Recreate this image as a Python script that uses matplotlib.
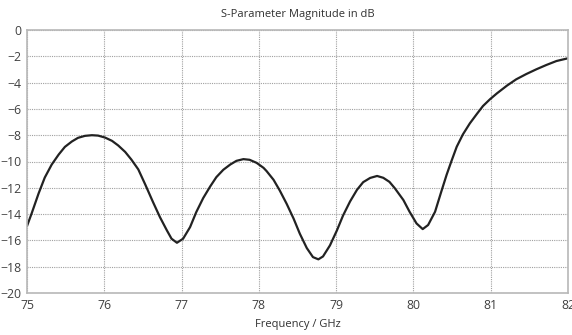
import matplotlib
matplotlib.use("Agg")
import matplotlib.pyplot as plt

# S-parameter values
freq = [75.0, 75.06, 75.15, 75.23, 75.32, 75.41, 75.49, 75.58, 75.66, 75.75,
        75.84, 75.92, 76.01, 76.10, 76.18, 76.27, 76.35, 76.44, 76.53, 76.63,
        76.72, 76.81, 76.87, 76.94, 77.02, 77.11, 77.19, 77.28, 77.37, 77.45,
        77.54, 77.63, 77.71, 77.80, 77.88, 77.97, 78.06, 78.10, 78.19, 78.27,
        78.36, 78.45, 78.53, 78.62, 78.70, 78.77, 78.83, 78.92, 79.01, 79.09,
        79.18, 79.27, 79.35, 79.44, 79.53, 79.61, 79.69, 79.76, 79.87, 79.95,
        80.04, 80.12, 80.19, 80.28, 80.36, 80.43, 80.49, 80.56, 80.64, 80.73,
        80.82, 80.90, 80.99, 81.08, 81.21, 81.33, 81.46, 81.59, 81.72, 81.85,
        82.0]
mag_db = [-14.91, -13.95, -12.43, -11.22, -10.23, -9.47, -8.89, -8.48, -8.20, -8.05,
          -8.00, -8.03, -8.18, -8.43, -8.78, -9.27, -9.85, -10.60, -11.75, -13.08,
          -14.23, -15.24, -15.87, -16.18, -15.87, -14.99, -13.85, -12.78, -11.90, -11.19,
          -10.63, -10.23, -9.95, -9.82, -9.87, -10.10, -10.48, -10.73, -11.39, -12.20,
          -13.22, -14.35, -15.49, -16.58, -17.27, -17.44, -17.22, -16.38, -15.24, -14.10,
          -13.04, -12.15, -11.57, -11.25, -11.10, -11.24, -11.55, -12.04, -12.93, -13.82,
          -14.71, -15.14, -14.83, -13.82, -12.30, -11.00, -10.00, -8.88, -7.94, -7.10,
          -6.39, -5.78, -5.27, -4.82, -4.23, -3.75, -3.35, -2.99, -2.66, -2.36,
          -2.15]

xticks = [75, 76, 77, 78, 79, 80, 81, 82]
yticks = [0, -2, -4, -6, -8, -10, -12, -14, -16, -18, -20]

plt.rcParams['font.family'] = ['Open Sans', 'DejaVu Sans']

fig = plt.figure(figsize=(5.72, 3.35), dpi=100)
ax = fig.add_axes([27 / 572, 42 / 335, 541 / 572, 263 / 335])

ax.plot(freq, mag_db, color='#222222', linewidth=1.6,
        solid_joinstyle='round', solid_capstyle='round')

ax.set_xlim(75, 82)
ax.set_ylim(-20, 0)
ax.set_xticks(xticks)
ax.set_yticks(yticks)
ax.grid(True, linestyle=(0, (1, 1)), color='#a0a0a0', linewidth=0.8)
for s in ax.spines.values():
    s.set_color('#b8b8b8')
    s.set_linewidth(1.2)
ax.tick_params(length=0, labelsize=8.8, colors='#404040', pad=4)

ax.set_title("S-Parameter Magnitude in dB", fontsize=8, color='#303030', pad=9)
ax.set_xlabel("Frequency / GHz", fontsize=8, color='#303030', labelpad=5)

fig.savefig("out.png", dpi=100)
